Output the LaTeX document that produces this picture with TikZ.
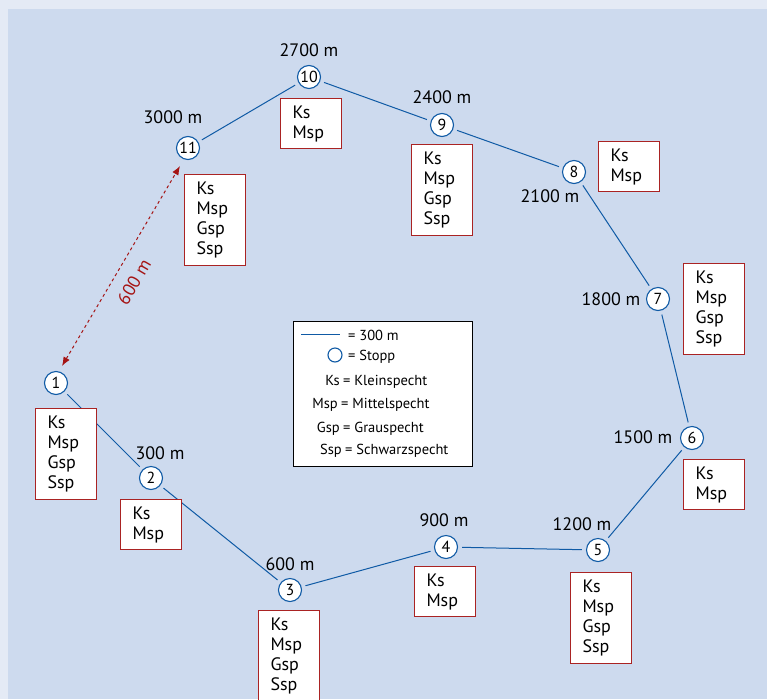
\documentclass[tikz,border=0pt]{standalone}
\usepackage{fontspec}
\setmainfont{PT Sans}
\usetikzlibrary{arrows.meta}
\definecolor{outerbg}{RGB}{228,234,245}
\definecolor{innerbg}{RGB}{205,218,238}
\definecolor{pathblue}{RGB}{15,90,165}
\definecolor{boxred}{RGB}{170,35,35}
\definecolor{arrowred}{RGB}{165,20,20}
\begin{document}
\begin{tikzpicture}[x=1pt,y=-1pt,
  stopp/.style={circle,draw=pathblue,fill=white,line width=1.1pt,minimum size=23pt,inner sep=0pt,font=\fontsize{16}{16}\selectfont},
  dist/.style={font=\fontsize{18}{20}\selectfont,inner sep=0pt},
  sbox/.style={draw=boxred,fill=white,line width=1pt,anchor=north west,align=left,inner xsep=12pt,inner ysep=0pt,text width=37pt,minimum width=61pt,font=\fontsize{18}{20}\selectfont},
  sbox4/.style={sbox,minimum height=91pt},
  sbox2/.style={sbox,minimum height=50pt},
  route/.style={draw=pathblue,line width=1pt,shorten >=4pt,shorten <=4pt},
  legtext/.style={font=\fontsize{14.5}{17}\selectfont,inner sep=0pt}]
\useasboundingbox (0,0) rectangle (767,699);
\clip (0,0) rectangle (767,699);
\fill[outerbg] (0,0) rectangle (767,699);
\fill[innerbg] (8,9) rectangle (767,699);

% stops
\node[stopp] (s1) at (56,383) {1};
\node[stopp] (s2) at (151,478) {2};
\node[stopp] (s3) at (290,590) {3};
\node[stopp] (s4) at (446,547) {4};
\node[stopp] (s5) at (598,550) {5};
\node[stopp] (s6) at (692,438) {6};
\node[stopp] (s7) at (658,299) {7};
\node[stopp] (s8) at (574,172) {8};
\node[stopp] (s9) at (442,125) {9};
\node[stopp] (s10) at (309,77) {10};
\node[stopp] (s11) at (188,148) {11};

% route
\draw[route] (s1) -- (s2);
\draw[route] (s2) -- (s3);
\draw[route] (s3) -- (s4);
\draw[route] (s4) -- (s5);
\draw[route] (s5) -- (s6);
\draw[route] (s6) -- (s7);
\draw[route] (s7) -- (s8);
\draw[route] (s8) -- (s9);
\draw[route] (s9) -- (s10);
\draw[route] (s10) -- (s11);

% distance labels
\node[dist] (d2) at (160,453) {300 m};
\node[dist] (d3) at (290,564) {600 m};
\node[dist] (d4) at (444,520) {900 m};
\node[dist] (d5) at (582,524) {1200 m};
\node[dist] (d6) at (643,437) {1500 m};
\node[dist] (d7) at (611,299) {1800 m};
\node[dist] (d8) at (550,196) {2100 m};
\node[dist] (d9) at (442,97) {2400 m};
\node[dist] (d10) at (309,50) {2700 m};
\node[dist] (d11) at (173,117) {3000 m};

% species boxes
\node[sbox4] (b1) at (35,408) {Ks\\Msp\\Gsp\\Ssp};
\node[sbox2] (b2) at (120,499) {Ks\\Msp};
\node[sbox4] (b3) at (258,610) {Ks\\Msp\\Gsp\\Ssp};
\node[sbox2] (b4) at (414,566) {Ks\\Msp};
\node[sbox4] (b5) at (570,572) {Ks\\Msp\\Gsp\\Ssp};
\node[sbox2] (b6) at (683,459) {Ks\\Msp};
\node[sbox4] (b7) at (683,263) {Ks\\Msp\\Gsp\\Ssp};
\node[sbox2] (b8) at (598,141) {Ks\\Msp};
\node[sbox4] (b9) at (411,144) {Ks\\Msp\\Gsp\\Ssp};
\node[sbox2] (b10) at (280,98) {Ks\\Msp};
\node[sbox4] (b11) at (184,174) {Ks\\Msp\\Gsp\\Ssp};

% 600 m shortcut
\coordinate (a1) at (62,366);
\coordinate (a2) at (180,166);
\draw[arrowred,line width=1pt,dashed,{Latex[length=9pt,width=7pt]}-{Latex[length=9pt,width=7pt]}] (a1) -- (a2);
\node[dist,text=arrowred,rotate=59.5] (d600) at (134,282) {600 m};

% legend
\node[draw=black,fill=white,line width=0.9pt,minimum width=179pt,minimum height=145pt,anchor=north west,inner sep=0pt] (leg) at (293,321) {};
\coordinate (l1) at (301,334);
\coordinate (l2) at (340,334);
\draw[pathblue,line width=1pt] (l1) -- (l2);
\node[circle,draw=pathblue,line width=1.1pt,minimum size=14pt,inner sep=0pt] (lc) at (335,355) {};
\node[legtext,anchor=base west] (e1) at (348,340) {= 300 m};
\node[legtext,anchor=base west] (e2) at (348,360) {= Stopp};
\node[legtext,anchor=base east] (k1) at (340,385) {Ks};
\node[legtext,anchor=base west] (v1) at (343,385) {= Kleinspecht};
\node[legtext,anchor=base east] (k2) at (338,408) {Msp};
\node[legtext,anchor=base west] (v2) at (341,408) {= Mittelspecht};
\node[legtext,anchor=base east] (k3) at (340,432) {Gsp};
\node[legtext,anchor=base west] (v3) at (343,432) {= Grauspecht};
\node[legtext,anchor=base east] (k4) at (342,454) {Ssp};
\node[legtext,anchor=base west] (v4) at (345,454) {= Schwarzspecht};
\end{tikzpicture}
\end{document}
